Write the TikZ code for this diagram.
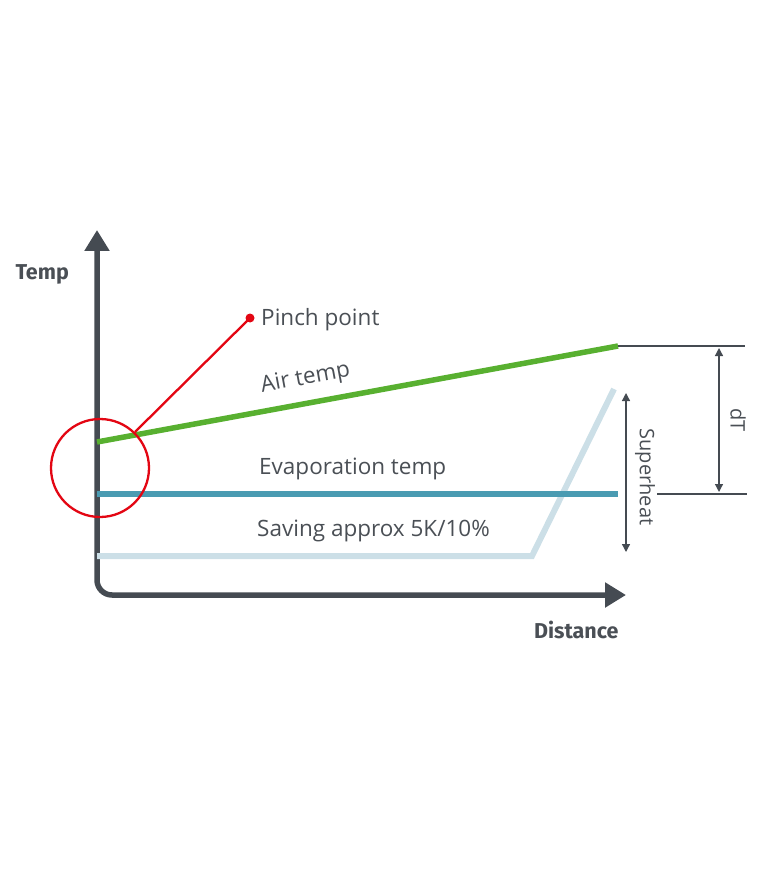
\documentclass[tikz,border=0pt]{standalone}
\usepackage{fontspec}
\setmainfont{Open Sans}
\newfontfamily\headfont{Fira Sans}
\usetikzlibrary{arrows.meta}
\definecolor{axisgray}{HTML}{454B52}
\definecolor{textgray}{HTML}{4A4F55}
\definecolor{airgreen}{HTML}{58B030}
\definecolor{evapteal}{HTML}{4A9BB2}
\definecolor{savingblue}{HTML}{CCDFE7}
\definecolor{pinchred}{HTML}{E30613}
\tikzset{
  axis/.style={draw=axisgray, line width=5.5pt, rounded corners=15pt,
    {Triangle[length=21pt,width=24pt]}-{Triangle[length=21pt,width=24pt]}},
  dimline/.style={draw=axisgray, line width=1.3pt},
  dimarrow/.style={dimline, {Triangle[length=8pt,width=8pt]}-{Triangle[length=8pt,width=8pt]}},
  headlabel/.style={text=textgray, font=\headfont\bfseries\fontsize{21.5}{24}\selectfont},
  curvelabel/.style={text=textgray, font=\fontsize{22.5}{26}\selectfont, inner sep=0pt},
  dimlabel/.style={text=textgray, font=\fontsize{20}{24}\selectfont, inner sep=0pt}
}

\begin{document}
\begin{tikzpicture}[x=1pt,y=-1pt]
			%%%%% START %%%%%
			\useasboundingbox (0,0) rectangle (764,882);
			
			% axes
			\draw[axis] (97,230) -- (97,595) -- (626,595);
			\node[headlabel, anchor=west] (temp) at (12,274) {Temp};
			\node[headlabel, anchor=east] (distance) at (622,630) {Distance};
			
			% curves
			\draw[savingblue, line width=6pt, line join=miter] (97,556) -- (532,556) -- (614,389);
			\draw[evapteal, line width=6pt] (97,494) -- (618,494);
			\draw[airgreen, line width=5.5pt] (97,442) -- (618,346);
			
			\node[curvelabel, anchor=west, rotate=10.5] (airtemp) at (261,387) {Air temp};
			\node[curvelabel, anchor=west] (evaptemp) at (259,469) {Evaporation temp};
			\node[curvelabel, anchor=west] (saving) at (257,531) {Saving approx 5K/10\%};
			
			% pinch point
			\draw[pinchred, line width=2.3pt] (100,468) circle (49);
			\coordinate (pinch) at (250,318);
			\draw[pinchred, line width=2.3pt] (135,432) -- (pinch);
			\fill[pinchred] (pinch) circle (4.5);
			\node[curvelabel, anchor=west] (pinchlabel) at (261,320) {Pinch point};
			
			% dT
			\draw[dimline] (618,346) -- (745,346);
			\draw[dimline] (657,494) -- (747,494);
			\coordinate (dttop) at (719,348);
			\coordinate (dtbot) at (719,492);
			\draw[dimarrow] (dttop) -- (dtbot);
			\node[dimlabel, rotate=-90] (dt) at (738,420) {dT};
			
			% superheat
			\coordinate (shtop) at (626,393);
			\coordinate (shbot) at (626,552);
			\draw[dimarrow] (shtop) -- (shbot);
			\node[dimlabel, rotate=-90] (superheat) at (645,477) {Superheat};
			%%%%% END %%%%%
\end{tikzpicture}
\end{document}
